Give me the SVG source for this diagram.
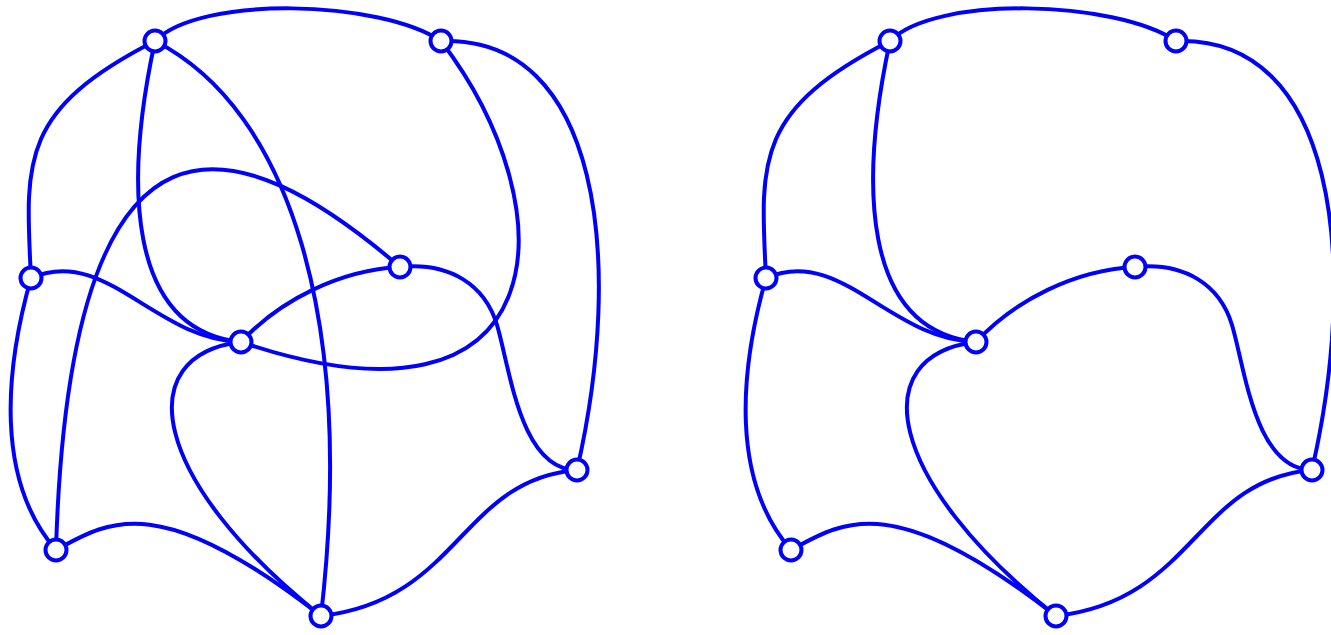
<svg xmlns="http://www.w3.org/2000/svg" width="1331" height="635" viewBox="0 0 1331 635">
<style>
.e{fill:none;stroke:#0000ff;stroke-width:4;stroke-linecap:round}
.n{fill:#ffffff;stroke:#0000ff;stroke-width:4}
</style>
<rect width="1331" height="635" fill="#ffffff"/>
<g id="connectors-left">
<path class="e" d="M155,41 C200,-5 380,0 441,41"/>
<path class="e" d="M155,41 C20,110 25,160 31,278"/>
<path class="e" d="M155,41 C125,180 125,330 241,342"/>
<path class="e" d="M155,41 C290,110 355,320 321,616"/>
<path class="e" d="M441,41 C600,35 625,260 577,470"/>
<path class="e" d="M441,41 C570,210 560,450 241,342"/>
<path class="e" d="M31,278 C105,245 155,340 241,342"/>
<path class="e" d="M31,278 C5,370 -5,480 56,550"/>
<path class="e" d="M400,267 C340,270 280,300 241,342"/>
<path class="e" d="M400,267 C240,130 70,70 56,550"/>
<path class="e" d="M400,267 C450,262 485,285 497,325 C510,368 520,470 577,470"/>
<path class="e" d="M241,342 C130,355 150,480 321,616"/>
<path class="e" d="M56,550 C110,520 160,490 321,616"/>
<path class="e" d="M321,616 C460,600 460,480 577,470"/>
</g>
<g id="connectors-right" transform="translate(735,0)">
<path class="e" d="M155,41 C200,-5 380,0 441,41"/>
<path class="e" d="M155,41 C20,110 25,160 31,278"/>
<path class="e" d="M155,41 C125,180 125,330 241,342"/>
<path class="e" d="M441,41 C600,35 625,260 577,470"/>
<path class="e" d="M31,278 C105,245 155,340 241,342"/>
<path class="e" d="M31,278 C5,370 -5,480 56,550"/>
<path class="e" d="M400,267 C340,270 280,300 241,342"/>
<path class="e" d="M400,267 C450,262 485,285 497,325 C510,368 520,470 577,470"/>
<path class="e" d="M241,342 C130,355 150,480 321,616"/>
<path class="e" d="M56,550 C110,520 160,490 321,616"/>
<path class="e" d="M321,616 C460,600 460,480 577,470"/>
</g>
<g id="nA"><circle class="n" cx="155" cy="41" r="10.5"/></g>
<g id="nB"><circle class="n" cx="441" cy="41" r="10.5"/></g>
<g id="nC"><circle class="n" cx="31" cy="278" r="10.5"/></g>
<g id="nD"><circle class="n" cx="400" cy="267" r="10.5"/></g>
<g id="nE"><circle class="n" cx="241" cy="342" r="10.5"/></g>
<g id="nF"><circle class="n" cx="577" cy="470" r="10.5"/></g>
<g id="nG"><circle class="n" cx="56" cy="550" r="10.5"/></g>
<g id="nH"><circle class="n" cx="321" cy="616" r="10.5"/></g>
<g id="nA2"><circle class="n" cx="890" cy="41" r="10.5"/></g>
<g id="nB2"><circle class="n" cx="1176" cy="41" r="10.5"/></g>
<g id="nC2"><circle class="n" cx="766" cy="278" r="10.5"/></g>
<g id="nD2"><circle class="n" cx="1135" cy="267" r="10.5"/></g>
<g id="nE2"><circle class="n" cx="976" cy="342" r="10.5"/></g>
<g id="nF2"><circle class="n" cx="1312" cy="470" r="10.5"/></g>
<g id="nG2"><circle class="n" cx="791" cy="550" r="10.5"/></g>
<g id="nH2"><circle class="n" cx="1056" cy="616" r="10.5"/></g>
</svg>
